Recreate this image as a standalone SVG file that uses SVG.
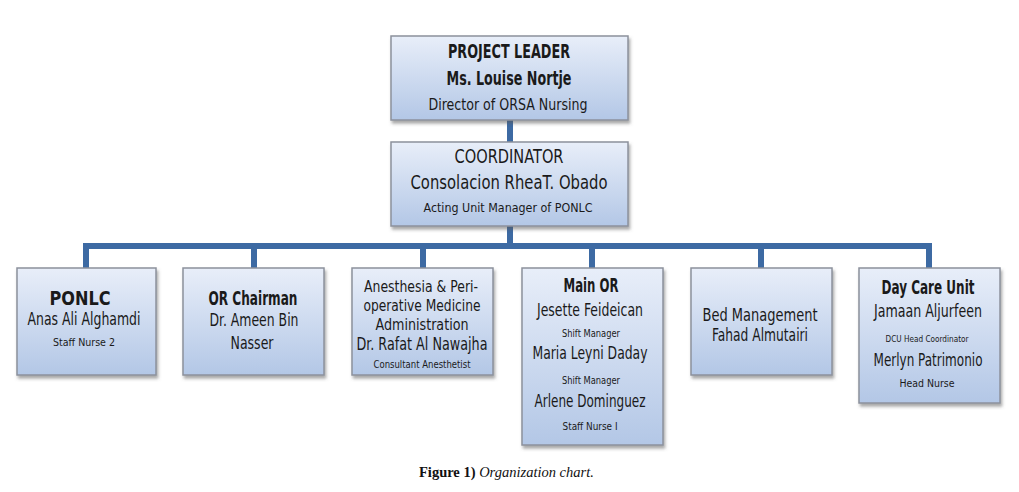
<svg xmlns="http://www.w3.org/2000/svg" width="1019" height="492" viewBox="0 0 1019 492">
<defs>
<linearGradient id="g" x1="0" y1="0" x2="0" y2="1">
<stop offset="0" stop-color="#e8eef9"/>
<stop offset="1" stop-color="#b3c7e6"/>
</linearGradient>
<filter id="sh" x="-10%" y="-10%" width="125%" height="130%">
<feDropShadow dx="1.5" dy="3" stdDeviation="1.8" flood-color="#555" flood-opacity="0.5"/>
</filter>
</defs>
<style>
.box{fill:url(#g);stroke:#8c919c;stroke-width:1.5;filter:url(#sh)}
.ln{stroke:#3d6aa3;stroke-width:6;fill:none}
text{font-family:"Liberation Sans Narrow","DejaVu Sans Condensed","Liberation Sans",sans-serif;fill:#1a1a1a;text-anchor:middle}
.b{font-weight:bold}
.cap{font-family:"Liberation Serif",serif;font-size:14.5px;text-anchor:start;fill:#111}
</style>
<rect width="1019" height="492" fill="#fff"/>
<g id="connectors">
<line class="ln" x1="510" y1="120" x2="510" y2="142"/>
<line class="ln" x1="510" y1="226" x2="510" y2="246"/>
<polyline class="ln" points="86,268 86,246 929,246 929,268"/>
<line class="ln" x1="254" y1="246" x2="254" y2="268"/>
<line class="ln" x1="423" y1="246" x2="423" y2="268"/>
<line class="ln" x1="592" y1="246" x2="592" y2="268"/>
<line class="ln" x1="761" y1="246" x2="761" y2="268"/>
</g>
<g id="project-leader">
<rect class="box" x="391" y="36" width="237" height="84"/>
<text class="b" x="509" y="58" font-size="20" textLength="122" lengthAdjust="spacingAndGlyphs">PROJECT LEADER</text>
<text class="b" x="509" y="85" font-size="20" textLength="125" lengthAdjust="spacingAndGlyphs">Ms. Louise Nortje</text>
<text x="508" y="110" font-size="16" textLength="159" lengthAdjust="spacingAndGlyphs">Director of ORSA Nursing</text>
</g>
<g id="coordinator">
<rect class="box" x="391" y="142" width="237" height="84"/>
<text x="509" y="163" font-size="20" textLength="109" lengthAdjust="spacingAndGlyphs">COORDINATOR</text>
<text x="509" y="189" font-size="20" textLength="197" lengthAdjust="spacingAndGlyphs">Consolacion RheaT. Obado</text>
<text x="508" y="212" font-size="13" textLength="169" lengthAdjust="spacingAndGlyphs">Acting Unit Manager  of PONLC</text>
</g>
<g id="ponlc">
<rect class="box" x="17" y="268" width="139" height="107"/>
<text class="b" x="80" y="305" font-size="20" textLength="61" lengthAdjust="spacingAndGlyphs">PONLC</text>
<text x="84" y="325" font-size="17" textLength="113" lengthAdjust="spacingAndGlyphs">Anas Ali Alghamdi</text>
<text x="84" y="346" font-size="11" textLength="62" lengthAdjust="spacingAndGlyphs">Staff Nurse 2</text>
</g>
<g id="or-chairman">
<rect class="box" x="183" y="268" width="141" height="107"/>
<text class="b" x="253" y="305" font-size="19" textLength="89" lengthAdjust="spacingAndGlyphs">OR Chairman</text>
<text x="254" y="326" font-size="18" textLength="89" lengthAdjust="spacingAndGlyphs">Dr. Ameen Bin</text>
<text x="252" y="349" font-size="18" textLength="43" lengthAdjust="spacingAndGlyphs">Nasser</text>
</g>
<g id="anesthesia">
<rect class="box" x="352" y="268" width="141" height="107"/>
<text x="421" y="292" font-size="16" textLength="114" lengthAdjust="spacingAndGlyphs">Anesthesia &amp; Peri-</text>
<text x="422" y="311" font-size="16" textLength="117" lengthAdjust="spacingAndGlyphs">operative Medicine</text>
<text x="422" y="330" font-size="16" textLength="93" lengthAdjust="spacingAndGlyphs">Administration</text>
<text x="422" y="350" font-size="17" textLength="131" lengthAdjust="spacingAndGlyphs">Dr. Rafat Al Nawajha</text>
<text x="422" y="368" font-size="11" textLength="97" lengthAdjust="spacingAndGlyphs">Consultant Anesthetist</text>
</g>
<g id="main-or">
<rect class="box" x="522" y="268" width="141" height="177"/>
<text class="b" x="591" y="292" font-size="19" textLength="55" lengthAdjust="spacingAndGlyphs">Main OR</text>
<text x="590" y="316" font-size="18" textLength="106" lengthAdjust="spacingAndGlyphs">Jesette  Feideican</text>
<text x="591" y="337" font-size="10" textLength="58" lengthAdjust="spacingAndGlyphs">Shift Manager</text>
<text x="590" y="359" font-size="18" textLength="115" lengthAdjust="spacingAndGlyphs">Maria Leyni Daday</text>
<text x="591" y="384" font-size="10" textLength="58" lengthAdjust="spacingAndGlyphs">Shift Manager</text>
<text x="590" y="407" font-size="18" textLength="111" lengthAdjust="spacingAndGlyphs">Arlene  Dominguez</text>
<text x="590" y="430" font-size="11" textLength="55" lengthAdjust="spacingAndGlyphs">Staff Nurse I</text>
</g>
<g id="bed-management">
<rect class="box" x="691" y="268" width="141" height="107"/>
<text x="760" y="321" font-size="17" textLength="115" lengthAdjust="spacingAndGlyphs">Bed Management</text>
<text x="760" y="341" font-size="17" textLength="96" lengthAdjust="spacingAndGlyphs">Fahad  Almutairi</text>
</g>
<g id="day-care-unit">
<rect class="box" x="859" y="268" width="141" height="135"/>
<text class="b" x="928" y="294" font-size="19" textLength="93" lengthAdjust="spacingAndGlyphs">Day Care Unit</text>
<text x="928" y="317" font-size="18" textLength="108" lengthAdjust="spacingAndGlyphs">Jamaan  Aljurfeen</text>
<text x="927" y="342" font-size="9" textLength="83" lengthAdjust="spacingAndGlyphs">DCU Head Coordinator</text>
<text x="928" y="366" font-size="18" textLength="109" lengthAdjust="spacingAndGlyphs">Merlyn Patrimonio</text>
<text x="927" y="387" font-size="11" textLength="55" lengthAdjust="spacingAndGlyphs">Head Nurse</text>
</g>
<text class="cap" x="419" y="477"><tspan font-weight="bold">Figure 1)</tspan> <tspan font-style="italic">Organization chart.</tspan></text>
</svg>
